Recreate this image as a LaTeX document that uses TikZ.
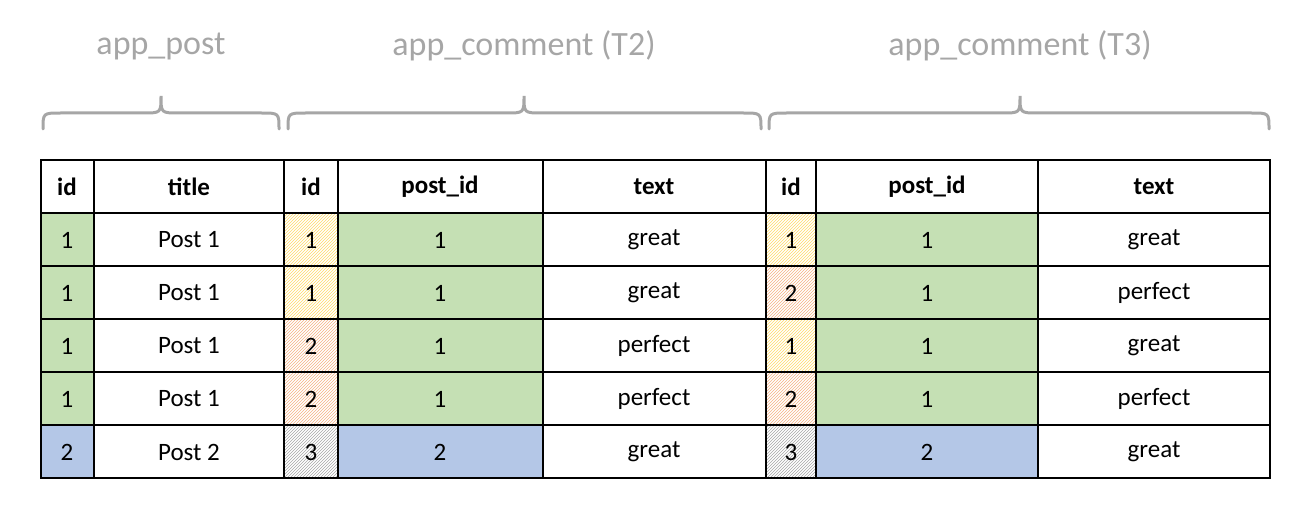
\documentclass[tikz,border=0pt]{standalone}
\usepackage{fontspec}
\setmainfont{Carlito}
\usetikzlibrary{patterns}
\definecolor{gr}{HTML}{C5E0B4}
\definecolor{bl}{HTML}{B4C7E7}
\definecolor{hy}{HTML}{FFD966}
\definecolor{hr}{HTML}{F4B183}
\definecolor{hg}{HTML}{A6A6A6}
\definecolor{tg}{HTML}{A6A6A6}
\begin{document}
\begin{tikzpicture}[x=1pt,y=-1pt,
  cell/.style={font=\fontsize{25}{28}\selectfont},
  hdr/.style={font=\fontsize{25}{28}\selectfont\bfseries},
  ttl/.style={font=\fontsize{34}{38}\selectfont,text=tg},
  brace/.style={draw=tg,line width=3pt,line cap=round}]
\useasboundingbox (0,0) rectangle (1312,516);
% fills
\foreach \r in {1,2,3,4}{
  \fill[gr] (41,{160+53*\r}) rectangle (94,{213+53*\r});
  \fill[gr] (338,{160+53*\r}) rectangle (543,{213+53*\r});
  \fill[gr] (816,{160+53*\r}) rectangle (1038,{213+53*\r});}
\fill[bl] (41,425) rectangle (94,478);
\fill[bl] (338,425) rectangle (543,478);
\fill[bl] (816,425) rectangle (1038,478);
% hatches
\foreach \r/\c in {1/hy,2/hy,3/hr,4/hr,5/hg}{
  \fill[pattern=north east lines,pattern color=\c] (284,{160+53*(\r-1)+53}) rectangle (338,{213+53*(\r-1)+53});}
\foreach \r/\c in {1/hy,2/hr,3/hy,4/hr,5/hg}{
  \fill[pattern=north east lines,pattern color=\c] (766,{160+53*(\r-1)+53}) rectangle (816,{213+53*(\r-1)+53});}
% grid
\draw[line width=1.3pt] (41,160) rectangle (1270,478);
\foreach \y in {213,266,319,372,425} \draw[line width=1.3pt] (41,\y) -- (1270,\y);
\foreach \x in {94,284,338,543,766,816,1038} \draw[line width=1.3pt] (\x,160) -- (\x,478);
% headers
\node[hdr] (h1) at (67,187) {id};
\node[hdr] (h2) at (189,187) {title};
\node[hdr] (h3) at (311,187) {id};
\node[hdr] (h4) at (440,187) {post\_id};
\node[hdr] (h5) at (654,187) {text};
\node[hdr] (h6) at (791,187) {id};
\node[hdr] (h7) at (927,187) {post\_id};
\node[hdr] (h8) at (1154,187) {text};
% rows
\foreach \r/\a/\b/\c/\d/\e/\f/\g/\h in {
 1/1/Post 1/1/1/great/1/1/great,
 2/1/Post 1/1/1/great/2/1/perfect,
 3/1/Post 1/2/1/perfect/1/1/great,
 4/1/Post 1/2/1/perfect/2/1/perfect,
 5/2/Post 2/3/2/great/3/2/great}{
 \node[cell] (a\r) at (67,{187+53*\r}) {\a};
 \node[cell] (b\r) at (189,{187+53*\r}) {\b};
 \node[cell] (c\r) at (311,{187+53*\r}) {\c};
 \node[cell] (d\r) at (440,{187+53*\r}) {\d};
 \node[cell] (e\r) at (654,{187+53*\r}) {\e};
 \node[cell] (f\r) at (791,{187+53*\r}) {\f};
 \node[cell] (g\r) at (927,{187+53*\r}) {\g};
 \node[cell] (k\r) at (1154,{187+53*\r}) {\h};}
% titles
\node[ttl] (t1) at (161,46) {app\_post};
\node[ttl] (t2) at (524,46) {app\_comment (T2)};
\node[ttl] (t3) at (1020,46) {app\_comment (T3)};
% braces
\foreach \l/\m/\rr in {43/161/279, 288/524/761, 769/1020/1269}{
 \draw[brace] (\l,129) .. controls (\l,113) .. (\l+18,113) -- (\m-18,113) .. controls (\m,113) .. (\m,96)
   .. controls (\m,113) .. (\m+18,113) -- (\rr-18,113) .. controls (\rr,113) .. (\rr,129);}
\end{tikzpicture}
\end{document}
